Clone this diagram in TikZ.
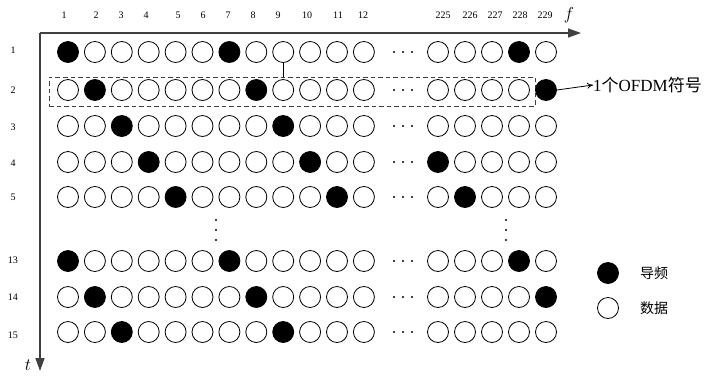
\documentclass[tikz,border=0pt]{standalone}
\usepackage{fontspec}
\setmainfont{Liberation Serif}
\newfontfamily\cjk{Noto Sans CJK SC}
\usetikzlibrary{arrows.meta}
\tikzset{
  pilot/.style={circle,draw=black,fill=black,line width=0.8pt,minimum size=21pt,inner sep=0pt},
  data/.style={circle,draw=black,fill=white,line width=0.8pt,minimum size=21pt,inner sep=0pt},
  axis/.style={draw=black!75,line width=1.5pt,-{Triangle[length=13pt,width=9pt]}},
  numlab/.style={font=\fontsize{10}{12}\selectfont,inner sep=0pt},
  legtext/.style={font=\cjk\fontsize{14}{16}\selectfont,anchor=west,inner sep=0pt},
  symbox/.style={draw=black!75,line width=0.9pt,dash pattern=on 4.5pt off 3pt,minimum width=486pt,minimum height=29pt,inner sep=0pt},
}
\begin{document}
\begin{tikzpicture}[x=1pt,y=-1pt]
\useasboundingbox (0,0) rectangle (713,376);
% axes
\coordinate (O) at (40,33);
\coordinate (fend) at (581,33);
\coordinate (tend) at (40,371);
\draw[axis] (O) -- (fend);
\draw[axis] (O) -- (tend);
\node[font=\itshape\fontsize{18}{20}\selectfont,inner sep=0pt] (flab) at (569,15) {$f$};
\node[font=\itshape\fontsize{18}{20}\selectfont,inner sep=0pt] (tlab) at (28,365) {$t$};
% column labels
\foreach \n/\x in {1/64,2/96,3/121,4/146,5/178,6/203,7/228,8/253,9/278,10/307,11/338,12/363,225/443,226/470,227/495,228/520,229/545}
  \node[numlab] (h-\n) at (\x,15) {\n};
% symbol box (row 2)
\node[symbox] (box) at (292,91.5) {};
% grid
\foreach \r/\y/\ly in {1/52/50,2/90/90,3/126/127,4/162/163,5/197/197,13/261/260,14/297/297,15/332/335}{
  \node[numlab] (r-\r) at (13,\ly) {\r};
  \foreach \c in {1,...,12}{
    \pgfmathtruncatemacro\p{mod(\c-\r+60,6)==0}
    \ifnum\p=1 \def\st{pilot}\else\def\st{data}\fi
    \node[\st] (c-\r-\c) at ({68+26.9*(\c-1)},\y) {};
  }
  \foreach \c in {225,...,229}{
    \pgfmathtruncatemacro\p{mod(\c-\r+60,6)==5}
    \ifnum\p=1 \def\st{pilot}\else\def\st{data}\fi
    \node[\st] (c-\r-\c) at ({438+27*(\c-225)},\y) {};
  }
  \foreach \x in {394,403,412} \fill (\x,\y) circle (1.1);
}
% vertical dots
\foreach \yy in {220,230,240}{
  \fill (216,\yy) circle (1.1);
  \fill (506,\yy) circle (1.1);
}
% connector from row 1 to box
\draw[line width=0.8pt] (c-1-9.south) -- (c-1-9.south |- box.north);
% OFDM symbol label
\node[anchor=west,inner sep=0pt,font=\fontsize{17}{19}\selectfont] (ofdm) at (593,85) {1{\cjk 个}OFDM{\cjk 符号}};
\draw[line width=0.8pt,-{To[length=6pt,width=6pt]}] (c-2-229.east) -- (ofdm.west);
% legend
\node[pilot] (lp) at (608,273) {};
\node[data] (ld) at (608,308) {};
\node[legtext] (lpt) at (640,273) {导频};
\node[legtext] (ldt) at (640,308) {数据};
\end{tikzpicture}
\end{document}
